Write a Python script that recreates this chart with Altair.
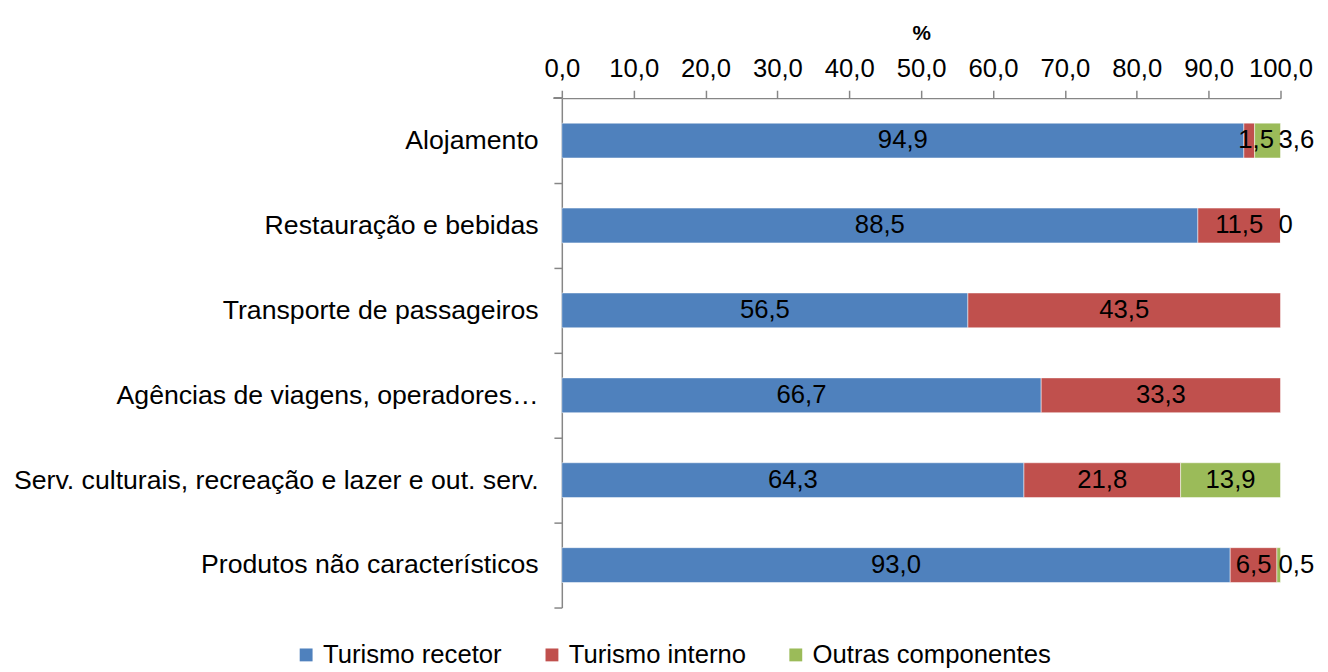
import altair as alt
import pandas as pd

categories = [
    "Alojamento",
    "Restauração e bebidas",
    "Transporte de passageiros",
    "Agências de viagens, operadores…",
    "Serv. culturais, recreação e lazer e out. serv.",
    "Produtos não característicos",
]
series_names = ["Turismo recetor", "Turismo interno", "Outras componentes"]
recetor = [94.9, 88.5, 56.5, 66.7, 64.3, 93.0]
interno = [1.5, 11.5, 43.5, 33.3, 21.8, 6.5]
outras = [3.6, 0.0, None, None, 13.9, 0.5]
colors = ["#4F81BD", "#C0504D", "#9BBB59"]

rows = []
for i, c in enumerate(categories):
    for k, (name, vals) in enumerate(zip(series_names, [recetor, interno, outras])):
        v = vals[i]
        if v is None:
            continue
        rows.append({"cat": c, "series": name, "value": v, "ord": k})
df = pd.DataFrame(rows)

FONT = "Liberation Sans"
FS = 26
FS_Y = 27
H = 516
STEP = H / len(categories)
AXIS_GREY = "#868686"

base = alt.Chart(df).transform_stack(
    stack="value", groupby=["cat"], sort=[alt.SortField("ord")], as_=["x0", "x1"]
).transform_calculate(
    mid="(datum.x0 + datum.x1) / 2",
    lab="datum.value == 0 ? '0' : replace(format(datum.value, '.1f'), '.', ',')",
)

y_enc = alt.Y(
    "cat:N",
    sort=categories,
    title=None,
    scale=alt.Scale(paddingInner=0.59, paddingOuter=0.295),
    axis=alt.Axis(
        labelFont=FONT, labelFontSize=FS_Y, labelColor="#000000", labelPadding=16,
        tickOffset=STEP / 2, labelOffset=-STEP / 2,
        tickSize=8, tickColor=AXIS_GREY, domainColor=AXIS_GREY,
        domainWidth=1.5, tickWidth=1.5, labelLimit=800,
    ),
)

bars = base.mark_bar(stroke="white", strokeWidth=0.5).encode(
    x=alt.X(
        "x0:Q",
        scale=alt.Scale(domain=[0, 100], nice=False),
        title="%",
        axis=alt.Axis(
            orient="top", values=list(range(0, 101, 10)),
            labelExpr="replace(format(datum.value, '.1f'), '.', ',')",
            labelOverlap=False, labelBound=False, labelFlush=False,
            labelFont=FONT, labelFontSize=FS, labelColor="#000000", labelPadding=9,
            titleFont=FONT, titleFontSize=21, titleFontWeight="bold", titlePadding=12,
            tickSize=8, tickColor=AXIS_GREY, domainColor=AXIS_GREY,
            domainWidth=1.5, tickWidth=1.5, grid=False,
        ),
    ),
    x2="x1:Q",
    y=y_enc,
    color=alt.Color(
        "series:N",
        scale=alt.Scale(domain=series_names, range=colors),
        legend=alt.Legend(
            title=None, orient="none", direction="horizontal", columns=3,
            legendX=-272, legendY=551,
            symbolType="square", symbolSize=170, symbolStrokeWidth=0,
            labelFont=FONT, labelFontSize=FS, labelColor="#000000", labelLimit=0,
            columnPadding=37, labelOffset=4,
        ),
    ),
    order=alt.Order("ord:Q"),
)

top_tick = alt.Chart(df).mark_rule(color=AXIS_GREY, strokeWidth=1.5).encode(
    x=alt.value(-8), x2=alt.value(0), y=alt.value(0)
)

txt_main = base.transform_filter("datum.value >= 5").mark_text(
    font=FONT, fontSize=FS, color="#000000", align="center", baseline="middle"
).encode(x="mid:Q", y=alt.Y("cat:N", sort=categories), text="lab:N")

txt_int_small = base.transform_filter(
    "datum.value < 5 && datum.series == 'Turismo interno'"
).mark_text(
    font=FONT, fontSize=FS, color="#000000", align="center", baseline="middle", dx=7
).encode(x="mid:Q", y=alt.Y("cat:N", sort=categories), text="lab:N")

txt_out_small = base.transform_filter(
    "datum.value < 5 && datum.series == 'Outras componentes'"
).mark_text(
    font=FONT, fontSize=FS, color="#000000", align="left", baseline="middle", dx=-2
).encode(x="x1:Q", y=alt.Y("cat:N", sort=categories), text="lab:N")

chart = alt.layer(bars, top_tick, txt_main, txt_int_small, txt_out_small).properties(
    width=728, height=H,
    padding={"left": 5, "top": 11, "right": 5, "bottom": 0},
).configure_view(stroke=None).configure_axisY(grid=False)

chart.save("out.html", embed_options={"renderer": "svg", "actions": False})
